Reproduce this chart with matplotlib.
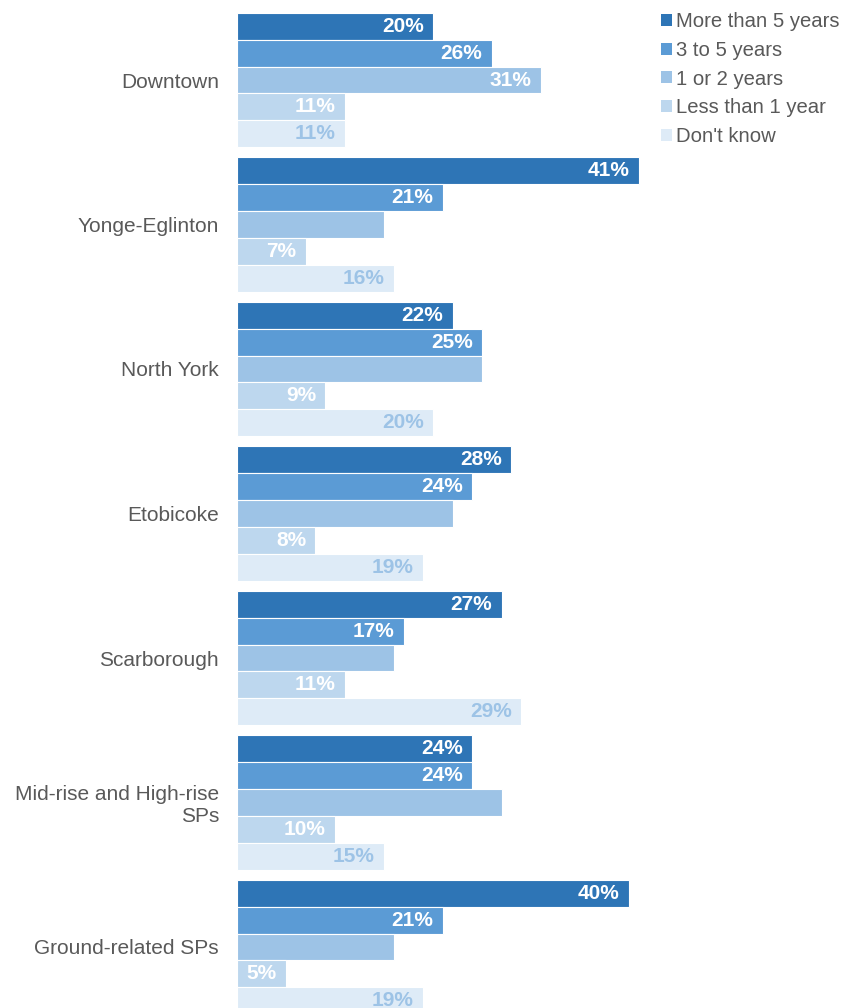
import matplotlib
matplotlib.use("Agg")
import matplotlib.pyplot as plt
from matplotlib.patches import Patch
import numpy as np

plt.rcParams['font.family'] = ['Liberation Sans', 'DejaVu Sans']

categories = ["Downtown", "Yonge-Eglinton", "North York", "Etobicoke",
              "Scarborough", "Mid-rise and High-rise\nSPs", "Ground-related SPs"]
series = ["More than 5 years", "3 to 5 years", "1 or 2 years",
          "Less than 1 year", "Don't know"]
more_than_5 = [20, 41, 22, 28, 27, 24, 40]
three_to_5 = [26, 21, 25, 24, 17, 24, 21]
one_or_2 = [31, 15, 25, 22, 16, 27, 16]
less_than_1 = [11, 7, 9, 8, 11, 10, 5]
dont_know = [11, 16, 20, 19, 29, 15, 19]
# which series values carry a printed label
show_one_or_2 = [True, False, False, False, False, False, False]

colors = ["#2e75b6", "#5b9bd5", "#9dc3e6", "#bdd7ee", "#deebf7"]
label_colors = ["white", "white", "white", "white", "#9dc3e6"]

values = [more_than_5, three_to_5, one_or_2, less_than_1, dont_know]
shown = [[True] * 7, [True] * 7, show_one_or_2, [True] * 7, [True] * 7]

W, H = 854, 1008
fig = plt.figure(figsize=(W / 100, H / 100), dpi=100)

x0_px, px_per = 237, 9.8
xmax = 45
top_px, bot_px = 7.75, 1019.25
ax = fig.add_axes([x0_px / W, (H - bot_px) / H,
                   xmax * px_per / W, (bot_px - top_px) / H])

n = len(series)
bar_h = 0.1855
y = np.arange(len(categories))
for k in range(n):
    pos = y - 2 * bar_h + k * bar_h
    bars = ax.barh(pos, values[k], height=bar_h, color=colors[k],
                   edgecolor="white", linewidth=0.8, label=series[k])
    for b, v, s in zip(bars, values[k], shown[k]):
        if s:
            ax.text(v - 0.95, b.get_y() + b.get_height() / 2, f"{v}%",
                    ha="right", va="center", fontsize=15,
                    fontweight="bold", color=label_colors[k])

ax.set_xlim(0, xmax)
ax.set_ylim(len(categories) - 0.5, -0.5)
ax.set_yticks(y)
ax.set_yticklabels(categories, fontsize=15, color="#595959")
ax.tick_params(axis="y", length=0, pad=13)
ax.set_xticks([])
for sp in ax.spines.values():
    sp.set_visible(False)

handles = [Patch(facecolor=c, edgecolor="none") for c in colors]
fig.legend(handles, series, loc="upper left",
           bbox_to_anchor=(657 / W, 1 - 8 / H), frameon=False,
           fontsize=14.6, labelcolor="#595959", handlelength=0.55,
           handleheight=0.55, handletextpad=0.2, labelspacing=0.48,
           borderaxespad=0, borderpad=0.2)

fig.savefig("out.png", dpi=100)
